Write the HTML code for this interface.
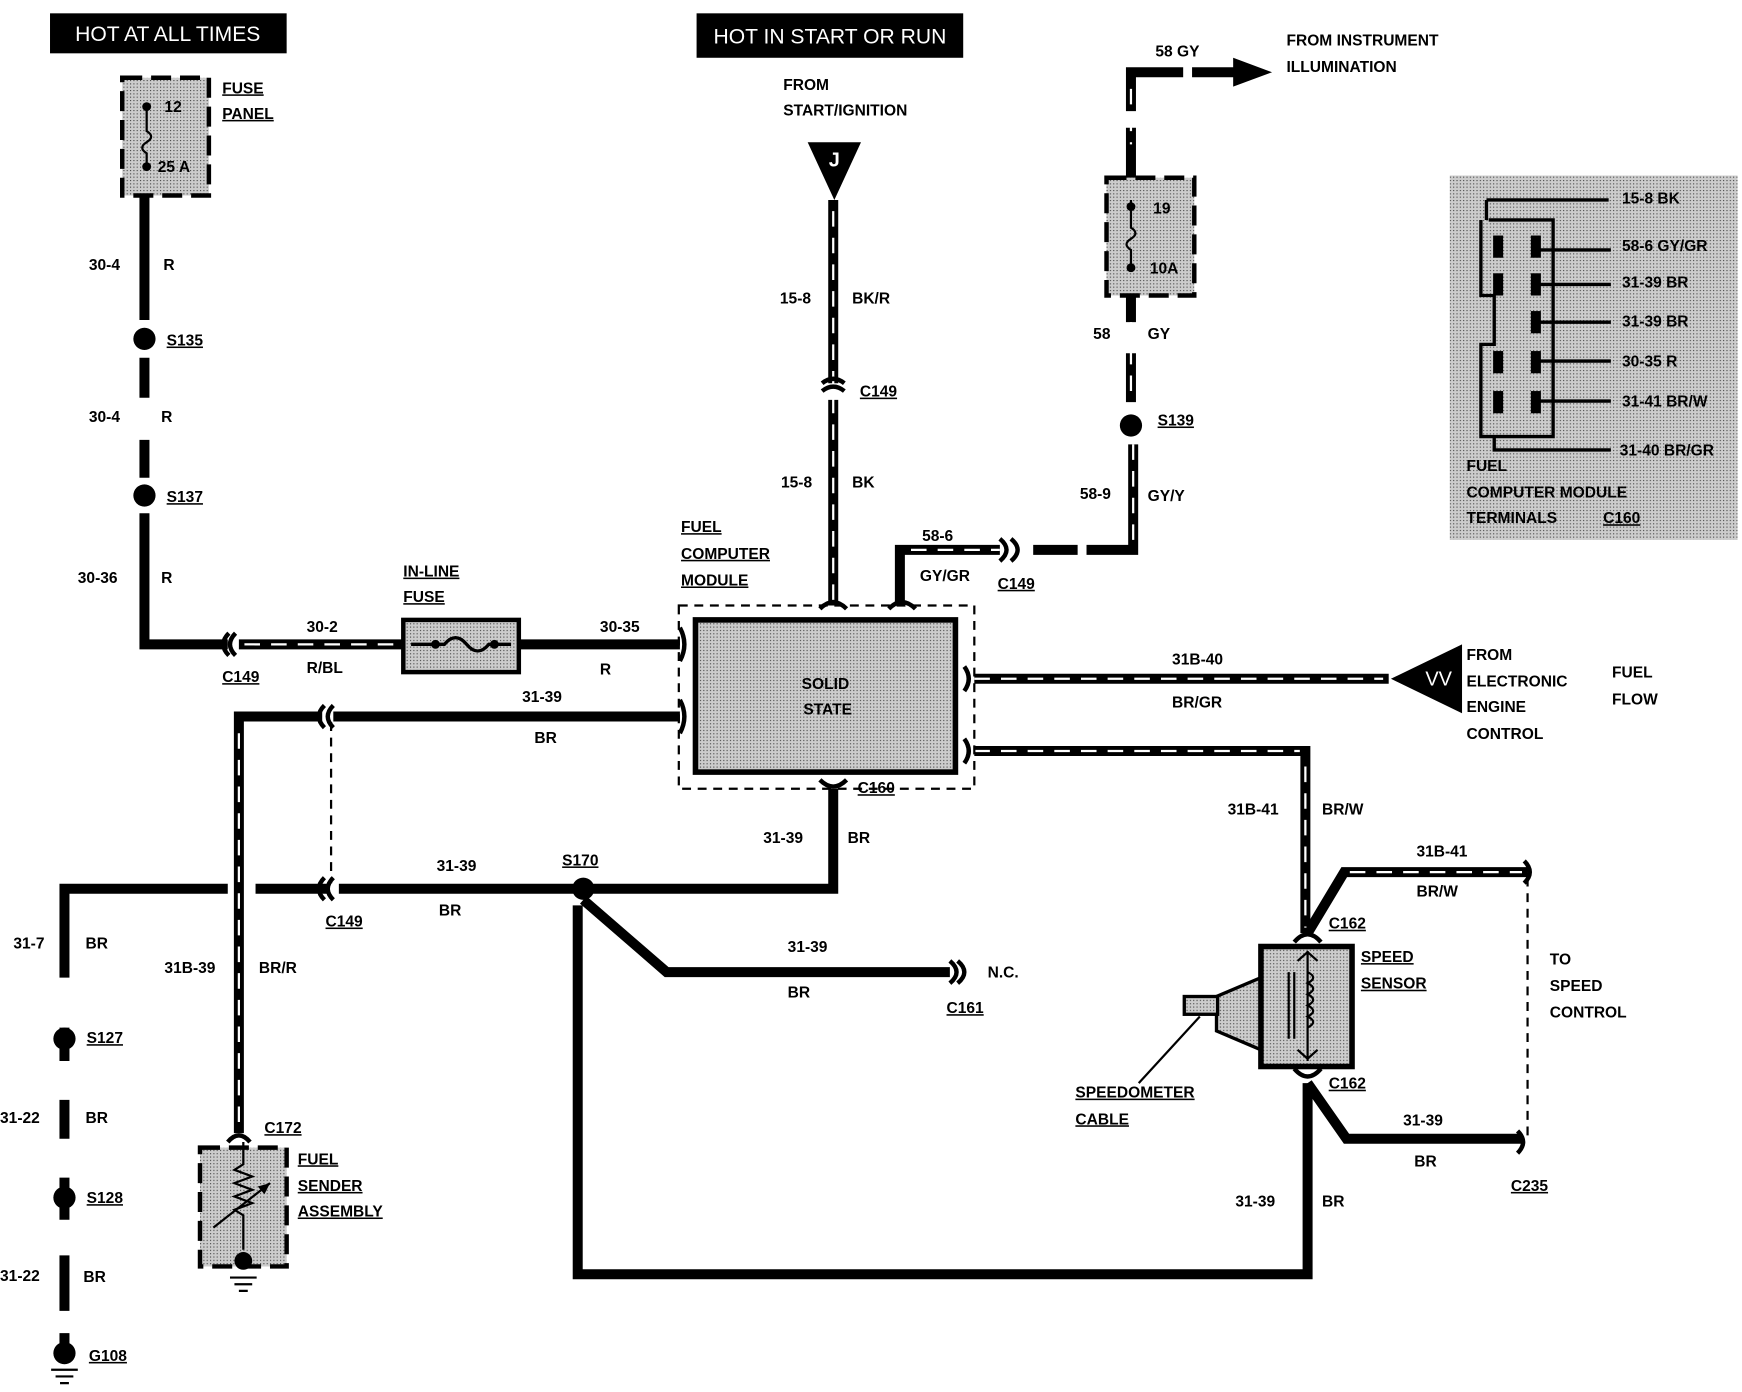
<!DOCTYPE html>
<html><head><meta charset="utf-8"><style>
html,body{margin:0;padding:0;background:#fff}
svg{display:block}
text{font-family:"Liberation Sans",sans-serif;font-weight:bold;font-size:14px;fill:#000}
.u{text-decoration:underline}
</style></head><body>
<svg width="1742" height="1392" viewBox="0 0 1568 1253" xmlns="http://www.w3.org/2000/svg">
<defs>
<pattern id="g" width="3" height="3" patternUnits="userSpaceOnUse"><rect width="3" height="3" fill="#ccc"/><rect width="1" height="1" fill="#444"/></pattern>
</defs>
<g fill="none" stroke="#000" stroke-width="9">
<path d="M130 176V288M130 322V358M130 396V430M130 462V580H205"/>
<path d="M215 580H362M467 580H612"/>
<path d="M750 180V345M750 360V545"/>
<path d="M810 545V495H900M930 495H970M978 495H1020V400M1018 362V318M1018 290V266M1018 160V115M1018 100V65H1065"/>
<path d="M1073 65H1120"/>
<path d="M877 611H1250"/>
<path d="M877 676H1175V840"/>
<path d="M612 645H300M290 645H215V1020"/>
<path d="M58 1215V800H205M230 800H295M305 800H750V710"/>
<path d="M525 810L600 875H855"/>
<path d="M520 815V1147H1177V975"/>
<path d="M1177 840L1210 785H1375M1177 975L1212 1025H1370"/>
</g>
<g fill="none" stroke="#fff" stroke-width="2" stroke-dasharray="14 10">
<path d="M220 580H360"/><path d="M877 611H1245"/><path d="M877 676H1170"/>
<path d="M215 660V1015"/><path d="M750 190V540"/><path d="M1018 80V130M1018 290V360M1020 400V490M820 495H900"/>
<path d="M1215 785H1370M1175 690V835"/>
</g>
<g stroke="#fff" stroke-width="12"><path d="M58 880V925M58 955V990M58 1025V1060M58 1098V1130M58 1180V1200"/></g>
<polygon points="1110,52 1145,65 1110,78" fill="#000"/>
<g fill="none" stroke="#000" stroke-width="2" stroke-dasharray="8 6">
<path d="M298 650V795M1375 790V1022"/>
<rect x="611" y="545" width="266" height="165"/>
</g>
<rect x="45" y="12" width="213" height="36" fill="#000"/>
<text x="151" y="37" text-anchor="middle" style="fill:#fff;font-weight:normal;font-size:19px">HOT AT ALL TIMES</text>
<rect x="627" y="12" width="240" height="40" fill="#000"/>
<text x="747" y="39" text-anchor="middle" style="fill:#fff;font-weight:normal;font-size:19px">HOT IN START OR RUN</text>
<rect x="110" y="70" width="78" height="106" fill="url(#g)" stroke="#000" stroke-width="4" stroke-dasharray="18 8"/>
<path d="M132 95V118q8 5 0 10q-8 5 0 10V150" stroke="#000" stroke-width="2" fill="none"/>
<circle cx="132" cy="96" r="4"/><circle cx="132" cy="150" r="4"/>
<text x="148" y="101">12</text><text x="142" y="155">25 A</text>
<text x="200" y="84" class="u">FUSE</text><text x="200" y="107" class="u">PANEL</text>
<circle cx="130" cy="305" r="10"/><circle cx="130" cy="446" r="10"/><circle cx="1018" cy="383" r="10"/>
<circle cx="525" cy="800" r="10"/><circle cx="58" cy="935" r="10"/><circle cx="58" cy="1078" r="10"/><circle cx="58" cy="1218" r="10"/>
<path d="M46 1233H70M50 1239H66M54 1245H62" stroke="#000" stroke-width="2"/>
<rect x="363" y="558" width="104" height="47" fill="url(#g)" stroke="#000" stroke-width="4"/>
<path d="M370 580H400q10-12 20 0t20 0H460" stroke="#000" stroke-width="3" fill="none"/>
<circle cx="392" cy="580" r="4"/><circle cx="445" cy="580" r="4"/>
<polygon points="727,128 775,128 751,180" fill="#000"/>
<text x="751" y="150" text-anchor="middle" style="fill:#fff;font-size:18px">J</text>
<polygon points="1316,580 1316,642 1252,611" fill="#000"/>
<text x="1295" y="617" text-anchor="middle" style="fill:#fff;font-size:18px;font-weight:normal">VV</text>
<rect x="626" y="558" width="234" height="137" fill="url(#g)" stroke="#000" stroke-width="5"/>
<text x="743" y="620" text-anchor="middle">SOLID</text><text x="745" y="643" text-anchor="middle">STATE</text>
<rect x="996" y="160" width="79" height="106" fill="url(#g)" stroke="#000" stroke-width="4" stroke-dasharray="18 8"/>
<path d="M1018 180V205q8 5 0 10q-8 5 0 10V242" stroke="#000" stroke-width="2" fill="none"/>
<circle cx="1018" cy="186" r="4"/><circle cx="1018" cy="241" r="4"/>
<text x="1038" y="192">19</text><text x="1035" y="246">10A</text>
<g fill="none" stroke="#000" stroke-width="4">
<path d="M212 570q-10 10 0 20M206 570q-10 10 0 20"/>
<path d="M740 345q10-8 20 0M740 352q10-8 20 0"/>
<path d="M900 485q12 10 0 20M910 485q12 10 0 20"/>
<path d="M612 565q8 15 0 30M612 630q8 15 0 30M868 600q8 11 0 22M868 665q8 11 0 22"/>
<path d="M738 548q12-12 24 0M800 548q12-12 24 0M738 702q12 12 24 0"/>
<path d="M300 635q-10 10 0 20M292 635q-10 10 0 20M300 790q-10 10 0 20M292 790q-10 10 0 20"/>
<path d="M855 865q12 10 0 20M862 865q12 10 0 20"/>
<path d="M1165 848q12-14 24 0M1165 962q12 14 24 0M205 1028q10-12 20 0"/>
<path d="M1372 775q10 10 0 20M1366 1018q10 10 0 20"/>
</g>
<polygon points="1135,880 1135,945 1095,928 1095,897" fill="url(#g)" stroke="#000" stroke-width="3"/>
<rect x="1066" y="897" width="30" height="16" fill="url(#g)" stroke="#000" stroke-width="3"/>
<rect x="1135" y="852" width="82" height="108" fill="url(#g)" stroke="#000" stroke-width="5"/>
<path d="M1177 856V955M1168 865l9-8 9 8M1168 945l9 8 9-8M1160 875V935M1165 875V935M1177 875q10 5 0 10q10 5 0 10q10 5 0 10q10 5 0 10q10 5 0 10" stroke="#000" stroke-width="2" fill="none"/>
<path d="M1080 915L1025 975" stroke="#000" stroke-width="2"/>
<rect x="180" y="1033" width="78" height="107" fill="url(#g)" stroke="#000" stroke-width="4" stroke-dasharray="18 8"/>
<path d="M219 1028V1048l-8 5 16 6-16 6 16 6-16 6 16 6-16 6 8 5V1125M192 1105L243 1065" stroke="#000" stroke-width="2" fill="none"/>
<polygon points="243,1065 232,1068 238,1075"/>
<circle cx="219" cy="1135" r="8"/>
<path d="M207 1150H231M211 1156H227M215 1162H223" stroke="#000" stroke-width="2"/>
<rect x="1305" y="158" width="259" height="328" fill="url(#g)"/>
<g fill="none" stroke="#000" stroke-width="3">
<path d="M1340 198H1398V393H1333V310H1345V266H1333V198M1338 180V198M1338 180H1448M1345 393V405H1450M1386 225H1450M1386 256H1450M1386 290H1450M1386 325H1450M1386 361H1450"/>
</g>
<g fill="#000"><rect x="1344" y="212" width="9" height="20"/><rect x="1378" y="212" width="9" height="20"/><rect x="1344" y="246" width="9" height="20"/><rect x="1378" y="246" width="9" height="20"/><rect x="1378" y="280" width="9" height="20"/><rect x="1344" y="316" width="9" height="20"/><rect x="1378" y="316" width="9" height="20"/><rect x="1344" y="352" width="9" height="20"/><rect x="1378" y="352" width="9" height="20"/></g>
<g style="font-size:13px">
<text x="1460" y="183">15-8 BK</text><text x="1460" y="226">58-6 GY/GR</text><text x="1460" y="259">31-39 BR</text><text x="1460" y="294">31-39 BR</text><text x="1460" y="330">30-35 R</text><text x="1460" y="366">31-41 BR/W</text><text x="1458" y="410">31-40 BR/GR</text>
<text x="1320" y="424">FUEL</text><text x="1320" y="448">COMPUTER  MODULE</text><text x="1320" y="471">TERMINALS</text><text x="1443" y="471" class="u">C160</text>
</g>
<text x="80" y="243">30-4</text><text x="147" y="243">R</text>
<text x="150" y="311" class="u">S135</text>
<text x="80" y="380">30-4</text><text x="145" y="380">R</text>
<text x="150" y="452" class="u">S137</text>
<text x="70" y="525">30-36</text><text x="145" y="525">R</text>
<text x="276" y="569">30-2</text><text x="276" y="606">R/BL</text>
<text x="200" y="614" class="u">C149</text>
<text x="363" y="519" class="u">IN-LINE</text><text x="363" y="542" class="u">FUSE</text>
<text x="540" y="569">30-35</text><text x="540" y="607">R</text>
<text x="613" y="479" class="u">FUEL</text><text x="613" y="503" class="u">COMPUTER</text><text x="613" y="527" class="u">MODULE</text>
<text x="705" y="81">FROM</text><text x="705" y="104">START/IGNITION</text>
<text x="702" y="273">15-8</text><text x="767" y="273">BK/R</text>
<text x="774" y="357" class="u">C149</text>
<text x="703" y="439">15-8</text><text x="767" y="439">BK</text>
<text x="830" y="487">58-6</text><text x="828" y="523">GY/GR</text>
<text x="898" y="530" class="u">C149</text>
<text x="972" y="449">58-9</text><text x="1033" y="451">GY/Y</text>
<text x="1042" y="383" class="u">S139</text>
<text x="984" y="305">58</text><text x="1033" y="305">GY</text>
<text x="1040" y="51">58  GY</text>
<text x="1158" y="41">FROM INSTRUMENT</text><text x="1158" y="65">ILLUMINATION</text>
<text x="1055" y="598">31B-40</text><text x="1055" y="637">BR/GR</text>
<text x="1320" y="594">FROM</text><text x="1320" y="618">ELECTRONIC</text><text x="1320" y="641">ENGINE</text><text x="1320" y="665">CONTROL</text>
<text x="1451" y="610">FUEL</text><text x="1451" y="634">FLOW</text>
<text x="470" y="632">31-39</text><text x="481" y="669">BR</text>
<text x="772" y="714" class="u">C160</text>
<text x="687" y="759">31-39</text><text x="763" y="759">BR</text>
<text x="506" y="779" class="u">S170</text>
<text x="393" y="784">31-39</text><text x="395" y="824">BR</text>
<text x="293" y="834" class="u">C149</text>
<text x="12" y="854">31-7</text><text x="77" y="854">BR</text>
<text x="148" y="876">31B-39</text><text x="233" y="876">BR/R</text>
<text x="78" y="939" class="u">S127</text>
<text x="0" y="1011">31-22</text><text x="77" y="1011">BR</text>
<text x="78" y="1083" class="u">S128</text>
<text x="0" y="1153">31-22</text><text x="75" y="1154">BR</text>
<text x="80" y="1225" class="u">G108</text>
<text x="238" y="1020" class="u">C172</text>
<text x="268" y="1048" class="u">FUEL</text><text x="268" y="1072" class="u">SENDER</text><text x="268" y="1095" class="u">ASSEMBLY</text>
<text x="709" y="857">31-39</text><text x="709" y="898">BR</text>
<text x="889" y="880">N.C.</text><text x="852" y="912" class="u">C161</text>
<text x="1105" y="733">31B-41</text><text x="1190" y="733">BR/W</text>
<text x="1275" y="771">31B-41</text><text x="1275" y="807">BR/W</text>
<text x="1196" y="836" class="u">C162</text>
<text x="1225" y="866" class="u">SPEED</text><text x="1225" y="890" class="u">SENSOR</text>
<text x="1395" y="868">TO</text><text x="1395" y="892">SPEED</text><text x="1395" y="916">CONTROL</text>
<text x="1196" y="980" class="u">C162</text>
<text x="968" y="988" class="u">SPEEDOMETER</text><text x="968" y="1012" class="u">CABLE</text>
<text x="1263" y="1013">31-39</text><text x="1273" y="1050">BR</text>
<text x="1360" y="1072" class="u">C235</text>
<text x="1112" y="1086">31-39</text><text x="1190" y="1086">BR</text>
</svg>
</body></html>
